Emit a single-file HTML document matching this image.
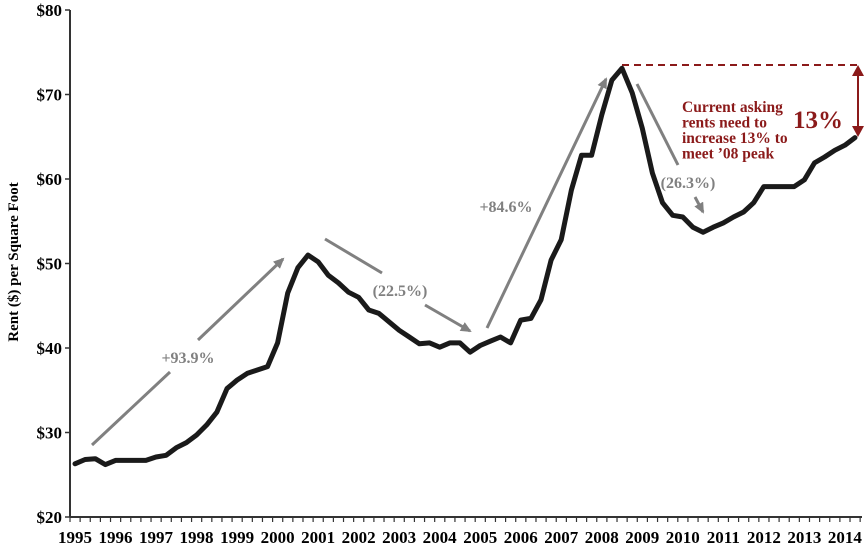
<!DOCTYPE html>
<html><head><meta charset="utf-8"><style>
body{margin:0;background:#fff;}
svg{display:block;font-family:"Liberation Serif",serif;}
</style></head><body>
<svg id="chart" width="865" height="547" viewBox="0 0 865 547" xmlns="http://www.w3.org/2000/svg">
<defs>
<marker id="ga" markerWidth="11" markerHeight="10" refX="9" refY="5" orient="auto" markerUnits="userSpaceOnUse"><path d="M0,0 L11,5 L0,10 z" fill="#808080"/></marker>
</defs>
<g id="axes"></g>
<g id="annot">
<line x1="92" y1="445" x2="170" y2="372" stroke="#808080" stroke-width="3"/>
<line x1="198" y1="340" x2="283" y2="259" stroke="#808080" stroke-width="3" marker-end="url(#ga)"/>
<text x="188" y="363" text-anchor="middle" font-size="16" font-weight="bold" fill="#808080">+93.9%</text>
<line x1="325" y1="239" x2="382" y2="273" stroke="#808080" stroke-width="3"/>
<line x1="425" y1="305" x2="470" y2="331" stroke="#808080" stroke-width="3" marker-end="url(#ga)"/>
<text x="400" y="296" text-anchor="middle" font-size="16" font-weight="bold" fill="#808080">(22.5%)</text>
<line x1="487" y1="328" x2="606" y2="79" stroke="#808080" stroke-width="3" marker-end="url(#ga)"/>
<text x="506" y="212" text-anchor="middle" font-size="16" font-weight="bold" fill="#808080">+84.6%</text>
<line x1="637" y1="84" x2="678" y2="165" stroke="#808080" stroke-width="3"/>
<line x1="695" y1="197" x2="703" y2="212" stroke="#808080" stroke-width="3" marker-end="url(#ga)"/>
<text x="688" y="188" text-anchor="middle" font-size="16" font-weight="bold" fill="#808080">(26.3%)</text>
<line x1="622" y1="65" x2="858" y2="65" stroke="#8B1A1A" stroke-width="2" stroke-dasharray="7,5"/>
<line x1="858" y1="75" x2="858" y2="128" stroke="#8B1A1A" stroke-width="2"/>
<path d="M852,76 L858,65 L864,76 z" fill="#8B1A1A"/>
<path d="M852,126 L858,137 L864,126 z" fill="#8B1A1A"/>
<text x="682" y="112" font-size="15.5" font-weight="bold" fill="#8B1A1A"><tspan x="682">Current asking</tspan><tspan x="682" dy="15.5">rents need to</tspan><tspan x="682" dy="15.5">increase 13% to</tspan><tspan x="682" dy="15.5">meet ’08 peak</tspan></text>
<text x="793" y="128" font-size="25" font-weight="bold" fill="#8B1A1A">13%</text>
</g>
<g id="series"></g>
</svg>
<script>
const years = ["1995","1996","1997","1998","1999","2000","2001","2002","2003","2004","2005","2006","2007","2008","2009","2010","2011","2012","2013","2014"];
const yTicks = [20,30,40,50,60,70,80];
const rents = [26.3,26.8,26.9,26.2,26.7,26.7,26.7,26.7,27.1,27.3,28.2,28.8,29.7,30.9,32.4,35.2,36.2,37.0,37.4,37.8,40.6,46.5,49.5,51.0,50.2,48.6,47.7,46.6,46.0,44.5,44.1,43.1,42.1,41.3,40.5,40.6,40.1,40.6,40.6,39.5,40.3,40.8,41.3,40.6,43.3,43.5,45.7,50.4,52.8,58.7,62.8,62.8,67.6,71.7,73.1,70.2,66.0,60.7,57.2,55.7,55.5,54.3,53.7,54.3,54.8,55.5,56.1,57.2,59.1,59.1,59.1,59.1,59.9,61.9,62.6,63.4,64.0,64.9];
const NS="http://www.w3.org/2000/svg";
const X0=75, DX=10.13, AX=70, AXR=862, Y20=517, PY=8.45;
const xs=i=>X0+DX*i, ys=v=>Y20-PY*(v-20);
const axes=document.getElementById('axes'), ser=document.getElementById('series');
function mk(t,a,p){const e=document.createElementNS(NS,t);for(const k in a)e.setAttribute(k,a[k]);p.appendChild(e);return e;}
let e=mk('line',{x1:AX,y1:ys(80),x2:AX,y2:Y20,stroke:'#333','stroke-width':2},axes);


e=mk('line',{x1:AX,y1:Y20,x2:AXR,y2:Y20,stroke:'#333','stroke-width':2},axes);


yTicks.forEach(v=>{
 const t=mk('line',{x1:AX-5,y1:ys(v),x2:AX,y2:ys(v),stroke:'#333','stroke-width':1.5},axes);
 
 
 const l=mk('text',{x:AX-8,y:ys(v)+6,'text-anchor':'end','font-size':17,'font-weight':'bold'},axes);
 l.textContent='$'+v;
 
 
});
for(let i=0;i<=rents.length;i++){
 const x=AX+DX*i;
 const t=mk('line',{x1:x,y1:Y20,x2:x,y2:Y20+5,stroke:'#333','stroke-width':1.2},axes);
 
 
}
years.forEach((y,k)=>{
 const l=mk('text',{x:xs(k*4),y:543,'text-anchor':'middle','font-size':17,'font-weight':'bold'},axes);
 l.textContent=y;
 
 
});
const yt=mk('text',{x:0,y:0,transform:'translate(18,262) rotate(-90)','text-anchor':'middle','font-size':15,'font-weight':'bold'},axes);
yt.textContent='Rent ($) per Square Foot';


const pl=mk('polyline',{points:rents.map((v,i)=>xs(i).toFixed(1)+','+ys(v).toFixed(1)).join(' '),fill:'none',stroke:'#1a1a1a','stroke-width':5,'stroke-linejoin':'round','stroke-linecap':'round'},ser);


</script>
</body></html>
